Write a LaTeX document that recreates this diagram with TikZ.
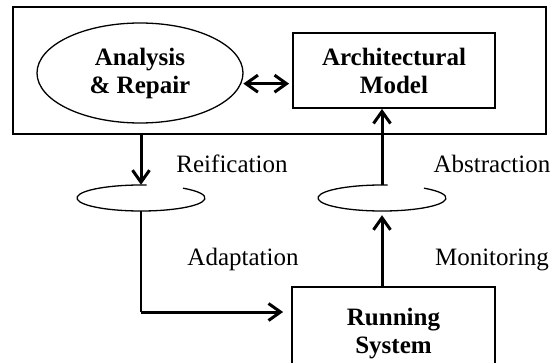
\documentclass[tikz,border=0pt]{standalone}
\usepackage{fontspec}
\setmainfont{Liberation Serif}
\usetikzlibrary{shapes.geometric,arrows.meta}

\begin{document}
\begin{tikzpicture}[x=1pt, y=1pt, >={Straight Barb[length=12pt,width=17pt]},
    every node/.style={font=\fontsize{25}{28}\selectfont, align=center, inner sep=0pt},
    box/.style={draw, line width=1.8pt, font=\fontsize{25}{28}\selectfont\bfseries},
    flow/.style={->, line width=3pt},
    lbl/.style={anchor=base}]
  \useasboundingbox (0,0) rectangle (553,362);
  \clip (0,0) rectangle (553,362);
  \node[draw, line width=1.8pt, minimum width=533, minimum height=127] (frame) at (279.5,291.5) {};
  \node[box, ellipse, line width=1.3pt, minimum width=206, minimum height=100] (ana) at (140,289) {Analysis\\\& Repair};
  \node[box, minimum width=202, minimum height=75] (arch) at (394,291.5) {Architectural\\Model};
  \node[box, minimum width=203, minimum height=94] (run) at (393.5,28) {Running\\System};
  \node[ellipse, minimum width=128, minimum height=26] (reifL) at (141,164) {};
  \node[ellipse, minimum width=128, minimum height=26] (absR) at (382,164) {};
  \node[lbl] (reif) at (232,190) {Reification};
  \node[lbl] (abs) at (492,190) {Abstraction};
  \node[lbl] (adapt) at (243,97) {Adaptation};
  \node[lbl] (mon) at (492,97) {Monitoring};
  % open ellipses
  \draw[line width=1.3pt] ([shift={(85:64 and 13)}]reifL.center) arc[start angle=85, end angle=409, x radius=64, y radius=13];
  \draw[line width=1.3pt] ([shift={(85:64 and 13)}]absR.center) arc[start angle=85, end angle=409, x radius=64, y radius=13];
  % connectors
  \draw[<->, line width=3pt, shorten <=2pt, shorten >=3pt] (ana.-6) -- (ana.-6 -| arch.west);
  \draw[flow] (frame.south -| reifL) -- (reifL.north);
  \coordinate (bend) at (reifL.south |- 0,50);
  \draw[line width=1.5pt] (reifL.south) -- (bend);
  \draw[flow, shorten >=8pt] (bend) -- (bend -| run.west);
  \draw[flow, shorten >=4pt] (absR.south |- run.north) -- (absR.south);
  \draw[flow] (absR.north) -- (absR.north |- arch.south);
\end{tikzpicture}
\end{document}
